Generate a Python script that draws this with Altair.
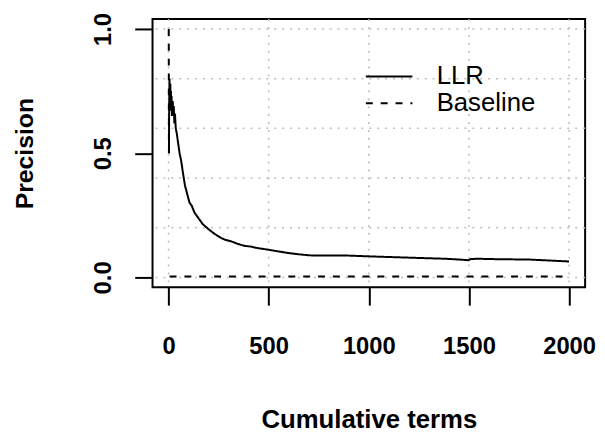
import altair as alt
import pandas as pd

# ---- data ----
series_names = ["LLR", "Baseline"]

llr_x = [2, 3, 4, 5, 6, 7, 8, 9, 10, 11, 12, 13, 15, 17, 19, 21, 23, 26, 29, 32, 36, 41, 48, 55,
         63, 72, 82, 95, 105, 115, 130, 148, 170, 198, 230, 260, 280, 313, 345, 379, 410, 444,
         494, 530, 560, 600, 650, 700, 724, 800, 889, 988, 1100, 1218, 1300, 1383, 1450, 1498,
         1510, 1547, 1650, 1795, 1900, 2000]
llr_y = [0.50, 0.67, 0.75, 0.80, 0.67, 0.71, 0.75, 0.78, 0.70, 0.73, 0.75, 0.69, 0.73, 0.65,
         0.68, 0.71, 0.65, 0.69, 0.62, 0.66, 0.60, 0.58, 0.54, 0.50, 0.47, 0.42, 0.37, 0.33,
         0.30, 0.29, 0.26, 0.24, 0.215, 0.195, 0.175, 0.16, 0.152, 0.145, 0.135, 0.127, 0.124,
         0.118, 0.112, 0.107, 0.103, 0.098, 0.093, 0.089, 0.088, 0.088, 0.088, 0.085, 0.082,
         0.079, 0.077, 0.075, 0.072, 0.069, 0.074, 0.075, 0.073, 0.072, 0.068, 0.064]

base_head_x = [1, 2]
base_head_y = [1.0, 0.5]
base_tail_x = [5, 2000]
base_tail_y = [0.004, 0.004]

x_ticks = [0, 500, 1000, 1500, 2000]
y_ticks = [0.0, 0.5, 1.0]
x_grid = [0, 500, 1000, 1500, 2000]
y_grid = [0.0, 0.2, 0.4, 0.6, 0.8, 1.0]

# ---- tables ----
rows = []
for xv, yv in zip(llr_x, llr_y):
    rows.append({"x": xv, "y": yv, "series": "LLR", "seg": "a"})
for xv, yv in zip(base_head_x, base_head_y):
    rows.append({"x": xv, "y": yv, "series": "Baseline", "seg": "a"})
for xv, yv in zip(base_tail_x, base_tail_y):
    rows.append({"x": xv, "y": yv, "series": "Baseline", "seg": "b"})
df = pd.DataFrame(rows)

FONT = "Liberation Sans"

xscale = alt.Scale(domain=[-80, 2080], nice=False, zero=False)
yscale = alt.Scale(domain=[-0.04, 1.04], nice=False, zero=False)

xaxis = alt.Axis(values=x_ticks, format="d", domain=False, grid=False,
                 tickSize=18, tickWidth=2, tickColor="black",
                 labelFont=FONT, labelFontWeight="bold", labelFontSize=24,
                 labelColor="black", labelBaseline="alphabetic", labelPadding=49,
                 labelFlush=False, labelOverlap=False,
                 title="Cumulative terms", titleFont=FONT, titleFontWeight="bold",
                 titleFontSize=26, titleColor="black", titleBaseline="alphabetic",
                 titleY=142)
yaxis = alt.Axis(values=y_ticks, format=".1f", domain=False, grid=False,
                 tickSize=18, tickWidth=2, tickColor="black",
                 labelFont=FONT, labelFontWeight="bold", labelFontSize=24,
                 labelColor="black", labelAngle=-90, labelAlign="center",
                 labelBaseline="alphabetic", labelPadding=24,
                 labelFlush=False, labelOverlap=False,
                 title="Precision", titleFont=FONT, titleFontWeight="bold",
                 titleFontSize=25, titleColor="black", titleAngle=-90,
                 titleAlign="center", titleBaseline="alphabetic", titleX=-121)

vgrid = alt.Chart(pd.DataFrame({"x": x_grid})).mark_rule(
    color="#bdbdbd", strokeWidth=1.5, strokeDash=[2, 6]
).encode(x=alt.X("x:Q", scale=xscale, axis=xaxis))

hgrid = alt.Chart(pd.DataFrame({"y": y_grid})).mark_rule(
    color="#bdbdbd", strokeWidth=1.5, strokeDash=[2, 6]
).encode(y=alt.Y("y:Q", scale=yscale, axis=yaxis))

lines = alt.Chart(df).mark_line(color="black", strokeWidth=2).encode(
    x=alt.X("x:Q", scale=xscale, axis=xaxis),
    y=alt.Y("y:Q", scale=yscale, axis=yaxis),
    strokeDash=alt.StrokeDash(
        "series:N",
        scale=alt.Scale(domain=series_names, range=[[1, 0], [7, 8]]),
        legend=alt.Legend(orient="none", legendX=226, legendY=45, title=None,
                          symbolType="M-2,0H2", symbolSize=552,
                          symbolStrokeWidth=2, symbolStrokeColor="black",
                          labelFont=FONT, labelFontSize=26, labelColor="black",
                          labelOffset=35, rowPadding=1, padding=0),
    ),
    detail="seg:N",
)

chart = alt.layer(vgrid, hgrid, lines).properties(
    width=437, height=271,
    autosize=alt.AutoSizeParams(type="none"),
    padding={"left": 146, "top": 9, "right": 12, "bottom": 145},
    background="white",
).configure_view(stroke="black", strokeWidth=2)

chart.save("out.html", embed_options={"renderer": "svg", "actions": False})
